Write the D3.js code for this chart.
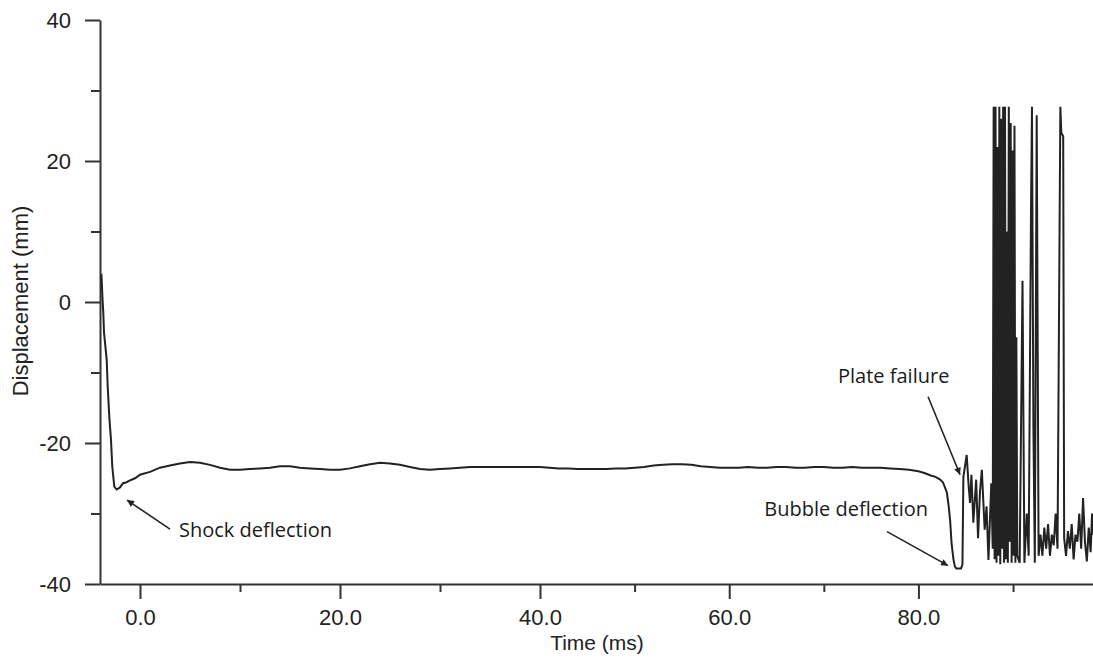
<!DOCTYPE html>
<html>
<head>
<meta charset="utf-8">
<title>Displacement vs time</title>
<script src="https://d3js.org/d3.v7.min.js"></script>
<style>
  body { margin: 0; background: #fff; }
  .axis text { font-family: "Liberation Sans", Arial, sans-serif; font-size: 22px; fill: #222; }
  .axis path, .axis line { stroke: #333; stroke-width: 2; }
  .note { font-family: "Open Sans", "Noto Sans", sans-serif; font-size: 20px; font-weight: 500; fill: #1a1a1a; }
</style>
</head>
<body>
<script>
// ticks
var xMajorTicks = [0, 20, 40, 60, 80];
var xMinorTicks = [10, 30, 50, 70, 90];
var yMajorTicks = [-40, -20, 0, 20, 40];
var yMinorTicks = [-30, -10, 10, 30];

// [time ms, displacement mm]
var shockPhase = [
  [-3.95, 3.5], [-3.85, 3.7], [-3.75, 0.5], [-3.67, -1.5], [-3.6, -4.3],
  [-3.33, -8.2], [-3.23, -12], [-3.07, -16.3], [-2.9, -19.6], [-2.77, -23.4],
  [-2.57, -26.2], [-2.33, -26.6]
];

var plateauPhase = [
  [-2.0, -26.3], [-1.7, -25.7], [-1.4, -25.6], [-1.0, -25.3], [-0.5, -25.0],
  [0, -24.5], [1, -24.1], [2, -23.5], [3, -23.2], [4, -22.9], [5, -22.7], [6, -22.8], [7, -23.1], [8, -23.5], [9, -23.8],
  [10, -23.8], [11, -23.7], [12, -23.6], [13, -23.5], [14, -23.3], [15, -23.3], [16, -23.5], [17, -23.6], [18, -23.7], [19, -23.8],
  [20, -23.8], [21, -23.6], [22, -23.3], [23, -23.0], [24, -22.8], [25, -22.9], [26, -23.1], [27, -23.4], [28, -23.7], [29, -23.8],
  [30, -23.7], [31, -23.6], [32, -23.5], [33, -23.4], [34, -23.4], [35, -23.4], [36, -23.4], [37, -23.4], [38, -23.4], [39, -23.4],
  [40, -23.4], [41, -23.5], [42, -23.6], [43, -23.6], [44, -23.7], [45, -23.7], [46, -23.7], [47, -23.7], [48, -23.6], [49, -23.6],
  [50, -23.5], [51, -23.4], [52, -23.2], [53, -23.1], [54, -23.0], [55, -23.0], [56, -23.1], [57, -23.3], [58, -23.4], [59, -23.5],
  [60, -23.5], [61, -23.5], [62, -23.4], [63, -23.5], [64, -23.5], [65, -23.4], [66, -23.4], [67, -23.5], [68, -23.5], [69, -23.4],
  [70, -23.4], [71, -23.5], [72, -23.5], [73, -23.4], [74, -23.5], [75, -23.5], [76, -23.5], [77, -23.6], [78, -23.7], [79, -23.8],
  [80, -24.0], [80.7, -24.3], [81.3, -24.6], [81.8, -24.8], [82.3, -25.2], [82.6, -25.6], [83.0, -27.0]
];

var failurePhase = [
  [83.2, -29], [83.35, -31], [83.5, -34.2], [83.7, -36.5], [83.85, -37.5], [84.0, -37.8], [84.5, -37.8], [84.65, -37.2],
  [84.75, -24.8], [85.1, -21.7], [85.3, -26], [85.45, -28.5], [85.6, -24.5], [85.8, -31.3], [86.1, -25.2], [86.3, -33.5],
  [86.5, -27], [86.7, -23.8], [87.0, -32.3], [87.2, -29], [87.4, -36.6], [87.7, -25.7], [87.85, -35],
  [87.95, 27.7], [88.05, -36.5], [88.15, 27.7], [88.25, -37], [88.35, 22], [88.45, -36], [88.55, 27.7], [88.65, -37.2],
  [88.75, 26], [88.85, -35], [88.95, 27.7], [89.05, -37], [89.15, 27.7], [89.25, -36.5], [89.35, 10], [89.45, -37],
  [89.55, 27.7], [89.65, -34], [89.75, 25.4], [89.85, -37], [89.95, 21.5], [90.05, -36], [90.15, 25], [90.25, -37],
  [90.35, -5], [90.45, -36],
  [90.7, -37], [91.0, 3], [91.2, -37], [91.45, -30], [91.65, -36], [91.9, 13.5], [92.0, 27.7], [92.15, -17.7],
  [92.3, -37], [92.5, 26.5], [92.7, -36],
  [92.9, -33], [93.1, -36], [93.3, -32], [93.5, -35], [93.7, -31.5], [93.9, -36], [94.1, -33], [94.3, -34.5],
  [94.5, -30], [94.7, -35],
  [95.0, 27.7], [95.1, 24], [95.3, 23.5], [95.4, -33.5],
  [95.6, -36], [95.8, -32.5], [96.0, -35], [96.2, -31.5], [96.4, -36.5], [96.6, -33], [96.8, -34], [97.0, -30],
  [97.2, -35], [97.4, -27.8], [97.6, -34], [97.8, -36.8], [98.0, -32], [98.2, -35.5], [98.35, -30], [98.45, -33]
];

// annotations: label, arrow head in data units
var noteLabels = ["Shock deflection", "Plate failure", "Bubble deflection"];
var noteHeads = [[-1.3, -28.1], [84.4, -24.5], [83.13, -37.4]];

var width = 1093, height = 659;

var svg = d3.select("body").append("svg")
    .attr("width", width)
    .attr("height", height);

// the original x axis is slightly compressed past 40 ms
var x = d3.scaleLinear().domain([-4, 40, 98.45]).range([100, 540, 1093]);
var y = d3.scaleLinear().domain([-40, 40]).range([584, 20]);

// y axis (plain hyphen for negatives, like the original)
svg.append("g")
    .attr("class", "axis")
    .attr("transform", "translate(100,0)")
    .call(d3.axisLeft(y).tickValues(yMajorTicks).tickSize(15).tickSizeOuter(0).tickPadding(14)
      .tickFormat(function(d) { return String(d); }));

svg.append("g")
    .attr("class", "axis")
    .attr("transform", "translate(100,0)")
    .call(d3.axisLeft(y).tickValues(yMinorTicks).tickSize(9).tickSizeOuter(0).tickFormat(""))
    .select(".domain").remove();

// x axis
svg.append("g")
    .attr("class", "axis")
    .attr("transform", "translate(0,584)")
    .call(d3.axisBottom(x).tickValues(xMajorTicks).tickSize(15).tickSizeOuter(0).tickPadding(10)
      .tickFormat(function(d) { return d.toFixed(1); }));

svg.append("g")
    .attr("class", "axis")
    .attr("transform", "translate(0,584)")
    .call(d3.axisBottom(x).tickValues(xMinorTicks).tickSize(8).tickSizeOuter(0).tickFormat(""))
    .select(".domain").remove();

// axis titles
svg.append("text")
    .attr("x", 597).attr("y", 650)
    .attr("text-anchor", "middle")
    .style("font-family", "'Liberation Sans', Arial, sans-serif")
    .style("font-size", "21px").style("fill", "#222")
    .text("Time (ms)");

svg.append("text")
    .attr("transform", "translate(28,301) rotate(-90)")
    .attr("text-anchor", "middle")
    .style("font-family", "'Liberation Sans', Arial, sans-serif")
    .style("font-size", "22px").style("fill", "#222")
    .text("Displacement (mm)");

// trace
var series = shockPhase.concat(plateauPhase, failurePhase);

var line = d3.line()
    .x(function(d) { return x(d[0]); })
    .y(function(d) { return y(d[1]); });

svg.append("path")
    .datum(series)
    .attr("fill", "none")
    .attr("stroke", "#222")
    .attr("stroke-width", 2)
    .attr("stroke-linejoin", "miter")
    .attr("d", line);

// arrows + labels
svg.append("defs").append("marker")
    .attr("id", "head")
    .attr("viewBox", "0 0 10 10")
    .attr("refX", 10).attr("refY", 5)
    .attr("markerWidth", 9).attr("markerHeight", 7)
    .attr("markerUnits", "userSpaceOnUse")
    .attr("orient", "auto")
  .append("path")
    .attr("d", "M0,0L10,5L0,10Z")
    .attr("fill", "#222");

var tailOffset = [[43, 29], [-32, -78], [-61, -34]];
var labelPos = [[179, 537, "start"], [838, 383, "start"], [928, 516, "end"]];

noteLabels.forEach(function(label, i) {
  var hx = x(noteHeads[i][0]), hy = y(noteHeads[i][1]);
  svg.append("line")
      .attr("x1", hx + tailOffset[i][0]).attr("y1", hy + tailOffset[i][1])
      .attr("x2", hx).attr("y2", hy)
      .attr("stroke", "#222")
      .attr("stroke-width", 1.6)
      .attr("marker-end", "url(#head)");

  svg.append("text")
      .attr("class", "note")
      .attr("x", labelPos[i][0]).attr("y", labelPos[i][1])
      .attr("text-anchor", labelPos[i][2])
      .text(label);
});
</script>
</body>
</html>
